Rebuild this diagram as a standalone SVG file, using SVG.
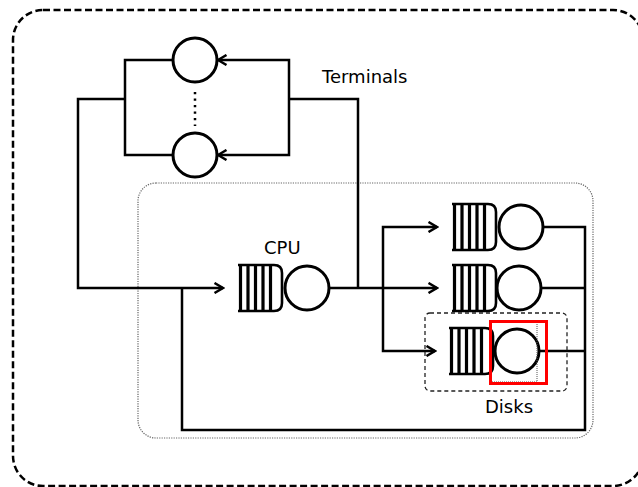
<svg xmlns="http://www.w3.org/2000/svg" xmlns:xlink="http://www.w3.org/1999/xlink" width="638" height="487" viewBox="0 0 638 487">
  <style>
    .ln { fill: none; stroke: #000; stroke-width: 2.5; stroke-linejoin: miter; }
    .srv { fill: #fff; stroke: #000; stroke-width: 3; }
    .q { fill: none; stroke: #000; stroke-width: 2.6; }
    .qb { fill: none; stroke: #000; stroke-width: 3.2; }
    .lbl { font-family: "DejaVu Sans", "Liberation Sans", sans-serif; font-size: 18px; fill: #000; }
  </style>
  <defs>
    <marker id="arr" markerUnits="userSpaceOnUse" markerWidth="12" markerHeight="12" viewBox="0 0 12 12" refX="10.5" refY="6" orient="auto">
      <path d="M2,1 L10.5,6 L2,11" fill="none" stroke="#000" stroke-width="2.5"/>
    </marker>
    <g id="queue">
      <path class="q" d="M-1,0 H35 Q43,0 43,8 V38 Q43,46 35,46 H-1"/>
      <path class="qb" d="M1.5,0 V46 M9,0 V46 M16.5,0 V46 M24,0 V46 M31.5,0 V46"/>
    </g>
  </defs>

  <g id="frames">
    <rect x="13" y="10" width="630" height="476" rx="30" ry="30" fill="none" stroke="#000" stroke-width="2.5" stroke-dasharray="7 3.5"/>
    <rect x="138" y="183" width="455" height="255" rx="18" ry="18" fill="none" stroke="#666" stroke-width="1.2" stroke-dasharray="1.2 1.2"/>
  </g>

  <g id="connectors">
    <path class="ln" d="M330,288 H437" marker-end="url(#arr)"/>
    <path class="ln" d="M383,288 V227 H437" marker-end="url(#arr)"/>
    <path class="ln" d="M383,288 V351 H435" marker-end="url(#arr)"/>
    <path class="ln" d="M358,288 V99 H289"/>
    <path class="ln" d="M289,99 V60 H218" marker-end="url(#arr)"/>
    <path class="ln" d="M289,99 V155 H218" marker-end="url(#arr)"/>
    <path class="ln" d="M173,60 H125 V155 H173"/>
    <path class="ln" d="M125,99 H78 V288 H223" marker-end="url(#arr)"/>
    <path class="ln" d="M543,227 H585 V430 H182 V288"/>
    <path class="ln" d="M541,288 H585"/>
    <path class="ln" d="M539,351 H585"/>
    <line x1="195" y1="92" x2="195" y2="126" stroke="#000" stroke-width="2.5" stroke-dasharray="2.2 4.3"/>
  </g>

  <g id="terminal-1">
    <circle class="srv" cx="195" cy="60" r="22"/>
  </g>
  <g id="terminal-2">
    <circle class="srv" cx="195" cy="155" r="22"/>
  </g>
  <g id="terminals-label">
    <text class="lbl" x="322" y="83">Terminals</text>
  </g>

  <g id="cpu">
    <use xlink:href="#queue" href="#queue" x="239" y="265"/>
    <circle class="srv" cx="307" cy="288" r="22"/>
    <text class="lbl" x="264" y="254">CPU</text>
  </g>

  <g id="disk-1">
    <use xlink:href="#queue" href="#queue" x="453" y="204"/>
    <circle class="srv" cx="521" cy="227" r="22"/>
  </g>
  <g id="disk-2">
    <use xlink:href="#queue" href="#queue" x="453" y="265"/>
    <circle class="srv" cx="519" cy="288" r="22"/>
  </g>
  <g id="disk-3">
    <rect x="425" y="313" width="142" height="78" rx="5" ry="5" fill="none" stroke="#222" stroke-width="1.3" stroke-dasharray="4 3"/>
    <use xlink:href="#queue" href="#queue" x="450" y="328"/>
    <circle class="srv" cx="517" cy="351" r="22"/>
    <path d="M490,382 H537 V321" fill="none" stroke="#555" stroke-width="1" stroke-dasharray="1 1"/>
    <rect x="490.5" y="321.5" width="56" height="62" fill="none" stroke="#f00" stroke-width="3"/>
    <text class="lbl" x="485" y="413">Disks</text>
  </g>
</svg>
